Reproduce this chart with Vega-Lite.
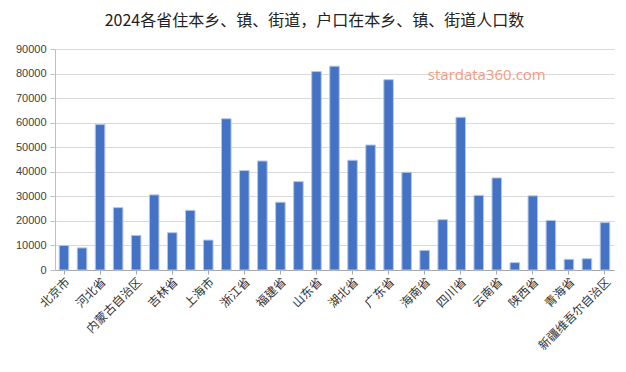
{
  "$schema": "https://vega.github.io/schema/vega-lite/v6.json",
  "autosize": {"type": "none"},
  "width": 559,
  "height": 221,
  "padding": {"left": 55, "top": 49, "right": 12, "bottom": 102},
  "background": "white",
  "config": {
    "view": {"stroke": null},
    "font": "Liberation Sans, Noto Sans CJK SC",
    "axis": {"labelFont": "Liberation Sans, Noto Sans CJK SC", "labelFontSize": 11, "labelColor": "#404040"}
  },
  "title": {
    "text": "2024各省住本乡、镇、街道，户口在本乡、镇、街道人口数",
    "font": "Noto Sans CJK SC",
    "fontSize": 16,
    "fontWeight": "normal",
    "color": "#222222",
    "anchor": "middle",
    "frame": "group",
    "dx": -20,
    "offset": 14
  },
  "encoding": {
    "x": {
      "field": "province",
      "type": "nominal",
      "sort": null,
      "title": null,
      "scale": {"paddingInner": 0.47, "paddingOuter": 0.235},
      "axis": {
        "values": ["北京市", "河北省", "内蒙古自治区", "吉林省", "上海市", "浙江省", "福建省", "山东省", "湖北省", "广东省", "海南省", "四川省", "云南省", "陕西省", "青海省", "新疆维吾尔自治区"],
        "labelAngle": -45,
        "labelFontSize": 12,
        "labelColor": "#333333",
        "labelFont": "Noto Sans CJK SC",
        "labelOverlap": false,
        "domainColor": "#a6a6a6",
        "tickColor": "#a6a6a6",
        "tickSize": 4,
        "labelPadding": 2,
        "grid": false
      }
    },
    "y": {
      "field": "value",
      "type": "quantitative",
      "title": null,
      "scale": {"domain": [0, 90000], "nice": false},
      "axis": {
        "values": [0, 10000, 20000, 30000, 40000, 50000, 60000, 70000, 80000, 90000],
        "format": "d",
        "labelOverlap": false,
        "gridColor": "#d9d9d9",
        "domainColor": "#bfbfbf",
        "tickColor": "#bfbfbf",
        "tickSize": 5,
        "labelPadding": 4
      }
    }
  },
  "layer": [
    {
      "data": {
        "values": [
          {"province": "北京市", "value": 10000},
          {"province": "天津市", "value": 9000},
          {"province": "河北省", "value": 59300},
          {"province": "山西省", "value": 25400},
          {"province": "内蒙古自治区", "value": 14100},
          {"province": "辽宁省", "value": 30600},
          {"province": "吉林省", "value": 15200},
          {"province": "黑龙江省", "value": 24300},
          {"province": "上海市", "value": 12200},
          {"province": "江苏省", "value": 61600},
          {"province": "浙江省", "value": 40500},
          {"province": "安徽省", "value": 44400},
          {"province": "福建省", "value": 27600},
          {"province": "江西省", "value": 36000},
          {"province": "山东省", "value": 80800},
          {"province": "河南省", "value": 83000},
          {"province": "湖北省", "value": 44700},
          {"province": "湖南省", "value": 50900},
          {"province": "广东省", "value": 77500},
          {"province": "广西壮族自治区", "value": 39800},
          {"province": "海南省", "value": 8000},
          {"province": "重庆市", "value": 20500},
          {"province": "四川省", "value": 62200},
          {"province": "贵州省", "value": 30400},
          {"province": "云南省", "value": 37500},
          {"province": "西藏自治区", "value": 3000},
          {"province": "陕西省", "value": 30200},
          {"province": "甘肃省", "value": 20200},
          {"province": "青海省", "value": 4350},
          {"province": "宁夏回族自治区", "value": 4600},
          {"province": "新疆维吾尔自治区", "value": 19300}
        ]
      },
      "mark": {"type": "bar", "color": "#4472C4", "stroke": "#b4c7e7", "strokeWidth": 1}
    },
    {
      "data": {"values": [{"province": "贵州省", "value": 79400, "label": "stardata360.com"}]},
      "mark": {"type": "text", "color": "#f79a7c", "fontSize": 15, "font": "Open Sans", "align": "center", "baseline": "middle", "dx": 8},
      "encoding": {
        "text": {"field": "label"}
      }
    }
  ]
}
